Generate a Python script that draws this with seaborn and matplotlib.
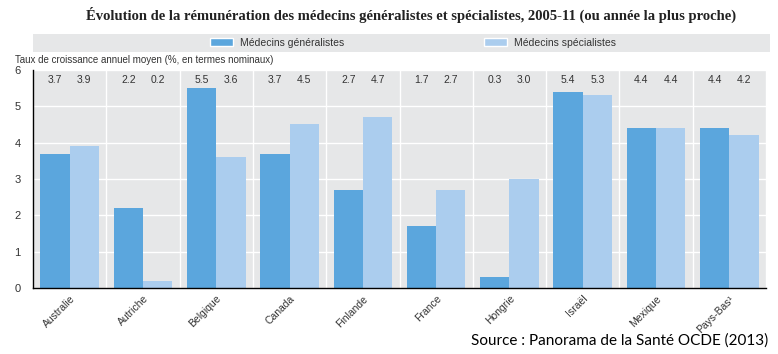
import pandas as pd
import seaborn as sns
import matplotlib.pyplot as plt
from matplotlib.patches import Rectangle

# --- data ---
pays = ['Australie', 'Autriche', 'Belgique', 'Canada', 'Finlande',
        'France', 'Hongrie', 'Israël', 'Mexique', 'Pays-Bas¹']
generalistes = [3.7, 2.2, 5.5, 3.7, 2.7, 1.7, 0.3, 5.4, 4.4, 4.4]
specialistes = [3.9, 0.2, 3.6, 4.5, 4.7, 2.7, 3.0, 5.3, 4.4, 4.2]
series = ['Médecins généralistes', 'Médecins spécialistes']
couleurs = ['#5ba6dd', '#abcdee']

df = pd.DataFrame({
    'pays': pays * 2,
    'valeur': generalistes + specialistes,
    'type': [series[0]] * len(pays) + [series[1]] * len(pays),
})

sns.set_style('white', {'axes.facecolor': '#e6e7e8'})
plt.rcParams['font.family'] = ['Liberation Sans', 'DejaVu Sans']

fig = plt.figure(figsize=(7.78, 3.54), dpi=100)
ax = fig.add_axes([0.0424, 0.1864, 0.9422, 0.6159])

sns.barplot(data=df, x='pays', y='valeur', hue='type', palette=couleurs,
            width=0.8, saturation=1, linewidth=0, ax=ax, legend=False)

ax.set_xlim(-0.5, len(pays) - 0.5)
ax.set_ylim(0, 6)
ax.set_xlabel('')
ax.set_ylabel('')

# grid: white horizontal lines + white separators between countries
ax.set_yticks(range(0, 7))
ax.set_xticks([i - 0.5 for i in range(len(pays) + 1)], minor=True)
ax.grid(axis='y', which='major', color='white', lw=1)
ax.grid(axis='x', which='minor', color='white', lw=1)
ax.set_axisbelow(True)

ax.tick_params(axis='x', which='major', length=0, pad=4)
ax.tick_params(axis='x', which='minor', direction='in', length=5, width=1, color='black')
ax.tick_params(axis='y', direction='in', length=4, width=1, color='black', pad=9,
               labelsize=8, labelcolor='#333333')
ax.set_xticklabels(pays, rotation=45, ha='right', rotation_mode='anchor',
                   fontsize=7.5, color='#333333')

for side in ['top', 'right']:
    ax.spines[side].set_visible(False)
for side in ['left', 'bottom']:
    ax.spines[side].set_color('black')
    ax.spines[side].set_linewidth(1)

# value labels above the plot
for i in range(len(pays)):
    ax.text(i - 0.2, 5.72, f'{generalistes[i]:.1f}', ha='center', va='center',
            fontsize=7.5, color='#333333')
    ax.text(i + 0.2, 5.72, f'{specialistes[i]:.1f}', ha='center', va='center',
            fontsize=7.5, color='#333333')

# legend band
fig.patches.append(Rectangle((33 / 778, 1 - 52 / 354), (770 - 33) / 778, 18 / 354,
                             transform=fig.transFigure, facecolor='#e6e7e8',
                             edgecolor='none', zorder=0))
handles = [Rectangle((0, 0), 1, 1, facecolor=c) for c in couleurs]
fig.legend(handles, series, loc='center', bbox_to_anchor=(413 / 778, 1 - 43 / 354),
           ncol=2, frameon=False, fontsize=7.5, handlelength=2.2, handleheight=0.8,
           columnspacing=13.5, handletextpad=0.6, labelcolor='#333333')

fig.text(411 / 778, 1 - 15 / 354,
         'Évolution de la rémunération des médecins généralistes et spécialistes, 2005-11 (ou année la plus proche)',
         ha='center', va='center', fontsize=10.5, fontweight='bold',
         family=['Liberation Serif', 'DejaVu Serif'], color='#222222')
fig.text(15 / 778, 1 - 60 / 354, 'Taux de croissance annuel moyen (%, en termes nominaux)',
         ha='left', va='center', fontsize=7, color='#333333')
fig.text(768 / 778, 1 - 341 / 354, 'Source : Panorama de la Santé OCDE (2013)',
         ha='right', va='center', fontsize=11, family=['Lato', 'DejaVu Sans'], color='black')

fig.savefig('out.png', dpi=100)
